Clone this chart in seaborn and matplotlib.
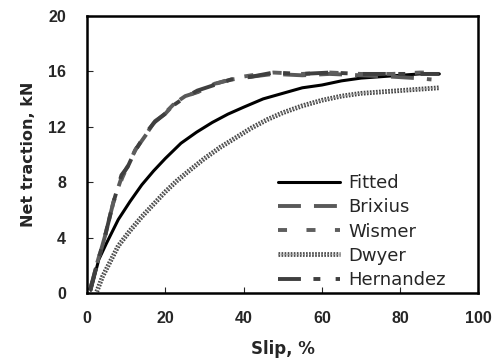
import matplotlib
matplotlib.use("Agg")
import matplotlib.pyplot as plt
import matplotlib.patheffects as pe
import pandas as pd
import seaborn as sns

# values (slip %, net traction kN)
fitted_x = [1, 3, 5, 8, 11, 14, 17, 20, 24, 28, 32, 36, 40, 45, 50, 55, 60, 65, 70, 75, 80, 85, 90]
fitted_y = [0.2, 2.4, 3.6, 5.3, 6.6, 7.8, 8.8, 9.7, 10.8, 11.6, 12.3, 12.9, 13.4, 14.0, 14.4, 14.8,
            15.0, 15.3, 15.5, 15.6, 15.7, 15.8, 15.8]

brixius_x = [0.8, 2, 4.6, 6.7, 8.9, 10.5, 12.3, 15.3, 17.4, 19.9, 22.5, 25.1, 28.4, 32.7, 37, 42,
             47.6, 55, 62, 70, 78, 84, 88]
brixius_y = [0.2, 1.5, 4.1, 6.5, 8.4, 9.2, 10.3, 11.5, 12.4, 12.9, 13.7, 14.2, 14.5, 15.1, 15.4,
             15.6, 15.8, 15.7, 15.8, 15.7, 15.6, 15.5, 15.4]

wismer_x = [0.8, 2, 4.5, 6.8, 9.0, 10.6, 12.5, 15.0, 17.6, 20.0, 22.8, 25.5, 28.8, 33.0, 37.5, 42,
            47.6, 55, 62, 70, 78, 85, 91]
wismer_y = [0.2, 1.6, 4.0, 6.6, 8.3, 9.3, 10.4, 11.4, 12.5, 13.0, 13.8, 14.2, 14.6, 15.1, 15.5,
            15.7, 15.9, 15.8, 15.9, 15.8, 15.8, 15.9, 15.9]

hernandez_x = [0.8, 2, 4.7, 6.6, 8.8, 10.4, 12.2, 15.2, 17.2, 19.8, 22.4, 25.0, 28.2, 32.5, 36.8, 42,
               47.6, 55, 62, 70, 78, 85, 90]
hernandez_y = [0.2, 1.5, 4.2, 6.4, 8.5, 9.1, 10.2, 11.6, 12.3, 12.9, 13.6, 14.1, 14.6, 15.0, 15.4,
               15.6, 15.9, 15.8, 15.9, 15.8, 15.8, 15.8, 15.8]

dwyer_x = [2.5, 4, 6, 8, 11, 14, 17, 20, 23, 26, 30, 34, 38, 42, 46, 50, 55, 60, 65, 70, 75, 80, 85, 90]
dwyer_y = [0.1, 1.2, 2.3, 3.4, 4.5, 5.5, 6.4, 7.3, 8.1, 8.8, 9.7, 10.5, 11.2, 11.9, 12.5, 13.0,
           13.5, 13.9, 14.2, 14.4, 14.5, 14.6, 14.7, 14.8]

x_ticks = [0, 20, 40, 60, 80, 100]
y_ticks = [0, 4, 8, 12, 16, 20]

sns.set_style("ticks")
plt.rcParams["font.family"] = ["Liberation Sans", "DejaVu Sans"]
plt.rcParams["lines.scale_dashes"] = False

fig = plt.figure(figsize=(4.99, 3.59), dpi=100)
ax = fig.add_axes([0.1743, 0.1838, 0.7846, 0.7725])

sns.lineplot(x=fitted_x, y=fitted_y, ax=ax, color="black", linewidth=2.2, label="Fitted")
sns.lineplot(x=brixius_x, y=brixius_y, ax=ax, color="#595959", linewidth=2.8,
             linestyle=(0, (16.5, 9.4)), label="Brixius")
sns.lineplot(x=wismer_x, y=wismer_y, ax=ax, color="#5e5e5e", linewidth=2.8,
             linestyle=(0, (6.5, 14)), label="Wismer")
sns.lineplot(x=dwyer_x, y=dwyer_y, ax=ax, color="#8c8c8c", linewidth=1.0,
             linestyle=(0, (1.2, 1.0)), label="Dwyer",
             path_effects=[pe.Stroke(linewidth=3.4, foreground="#444444"), pe.Normal()])
sns.lineplot(x=hernandez_x, y=hernandez_y, ax=ax, color="#3f3f3f", linewidth=2.8,
             linestyle=(0, (16.5, 9, 5, 11)), label="Hernandez")

ax.set_xlim(0, 100)
ax.set_ylim(0, 20)
ax.set_xticks(x_ticks)
ax.set_yticks(y_ticks)
ax.tick_params(direction="in", length=4, width=0.8, labelsize=11.5)
ax.tick_params(axis="x", pad=13)
ax.tick_params(axis="y", pad=15)
for lab in ax.get_xticklabels() + ax.get_yticklabels():
    lab.set_fontweight("bold")
for s in ax.spines.values():
    s.set_linewidth(1.8)
    s.set_color("black")

ax.set_xlabel("Slip, %", fontsize=12, fontweight="bold", labelpad=10,
              family=["DejaVu Sans"])
ax.set_ylabel("Net traction, kN", fontsize=11.5, fontweight="bold", labelpad=9,
              family=["DejaVu Sans"])

ax.legend(loc="upper left", bbox_to_anchor=(0.488, 0.428), frameon=False,
          prop={"family": "DejaVu Sans", "size": 13},
          handlelength=3.43, handletextpad=0.44, labelspacing=0.34, borderpad=0, borderaxespad=0)

fig.savefig("out.png", dpi=100)
